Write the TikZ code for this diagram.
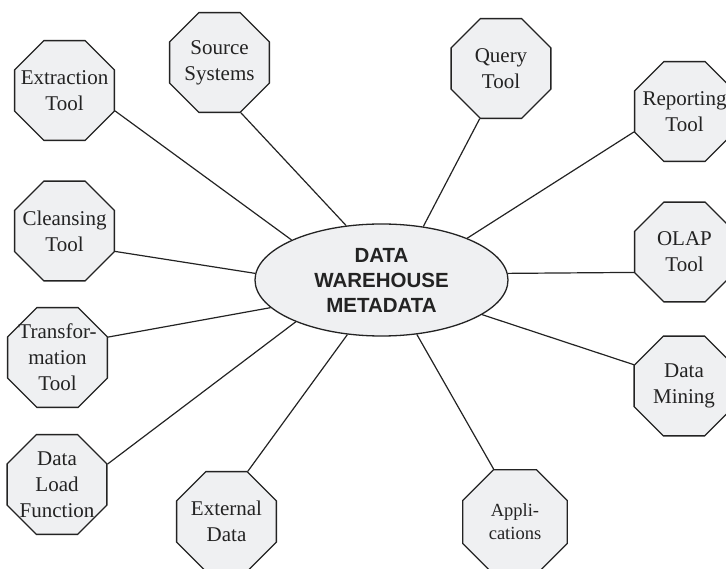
\documentclass[tikz,border=0pt]{standalone}
\usepackage{fontspec}
\setmainfont{Liberation Serif}
\newfontfamily\headfont{Liberation Sans}
\usetikzlibrary{shapes.geometric}
\definecolor{boxfill}{RGB}{239,240,242}
\definecolor{inkc}{RGB}{35,35,35}
\begin{document}
\begin{tikzpicture}[x=1pt,y=-1pt,
  oct/.style={regular polygon, regular polygon sides=8, minimum size=108pt,
    inner sep=0pt, draw=inkc, fill=boxfill, line width=1.3pt},
  bigoct/.style={oct, minimum size=113pt},
  octtext/.style={align=center, font=\fontsize{21}{26}\selectfont, text=inkc, inner sep=0pt},
  smalltext/.style={octtext, font=\fontsize{18.5}{23}\selectfont},
  hub/.style={ellipse, draw=inkc, fill=boxfill, line width=1.3pt,
    minimum width=253pt, minimum height=112pt, inner sep=0pt, align=center,
    font=\headfont\bfseries\fontsize{20.5}{25}\selectfont, text=inkc},
  link/.style={draw=inkc, line width=1.2pt}]
\useasboundingbox (0,0) rectangle (726,569);
\clip (0,0) rectangle (726,569);
% hub
\node[hub] (hub) at (381.5,280) {DATA\\WAREHOUSE\\METADATA};
% satellites
\node[oct] (ext) at (64.5,90.5) {};
\node[octtext] at (ext) {Extraction\\Tool};
\node[oct] (src) at (219.5,62.5) {};
\node[octtext] at (src) {Source\\Systems};
\node[oct] (qry) at (501,68.5) {};
\node[octtext] at (qry) {Query\\Tool};
\node[oct] (rep) at (684.5,111.5) {};
\node[octtext] at (rep) {Reporting\\Tool};
\node[oct] (olap) at (684.5,252) {};
\node[octtext] at (olap) {OLAP\\Tool};
\node[oct] (mine) at (684,386) {};
\node[octtext] at (mine) {Data\\Mining};
\node[bigoct] (app) at (515,522) {};
\node[smalltext] at (app) {Appli-\\cations};
\node[oct] (extd) at (226.5,521.5) {};
\node[octtext] at (extd) {External\\Data};
\node[oct] (load) at (57,484.5) {};
\node[octtext] at (load) {Data\\Load\\Function};
\node[oct] (trans) at (57.5,357.5) {};
\node[octtext] at (trans) {Transfor-\\mation\\Tool};
\node[oct] (clean) at (64.5,231) {};
\node[octtext] at (clean) {Cleansing\\Tool};
% connectors
\draw[link] (ext.-22.5) -- (hub.156);
\draw[link] (src.-67.5) -- (hub.123.2);
\draw[link] (qry.247.5) -- (hub.52.3);
\draw[link] (rep.202.5) -- (hub.26.4);
\draw[link] (olap.202.5) -- (hub.3.2);
\draw[link] (mine.157.5) -- (hub.-19.3);
\draw[link] (app.112.5) -- (hub.-57.4);
\draw[link] (extd.67.5) -- (hub.-122.1);
\draw[link] (load.22.5) -- (hub.206.9);
\draw[link] (trans.22.5) -- (hub.194.2);
\draw[link] (clean.-22.5) -- (hub.177.3);
\end{tikzpicture}
\end{document}
